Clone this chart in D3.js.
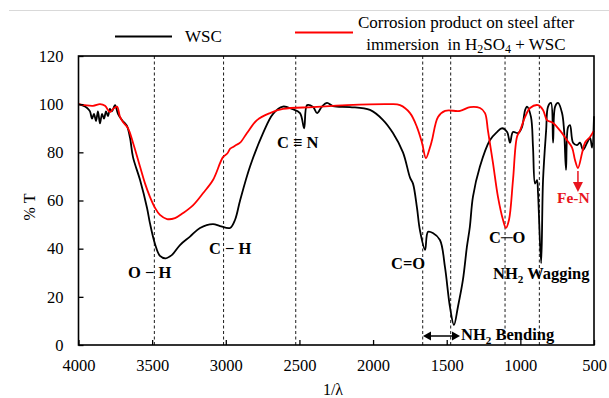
<!DOCTYPE html>
<html>
<head>
<meta charset="utf-8">
<script src="https://cdn.jsdelivr.net/npm/d3@7"></script>
<style>
  html, body { margin: 0; padding: 0; background: #fff; }
  svg { display: block; }
  text { font-family: "Liberation Serif", "Times New Roman", serif; }
</style>
</head>
<body>
<svg id="chart" width="609" height="398"></svg>
<script>
// FTIR spectra: wavenumber (cm⁻¹) vs % transmittance
const wscWave = [4000,3956,3935,3922,3908,3895,3881,3868,3854,3840,3827,3813,3800,3786,3773,3752,3732,3705,3684,3671,3650,3630,3582,3535,3515,3481,3447,3408,3365,3311,3243,3175,3087,3039,2971,2937,2903,2836,2747,2679,2612,2550,2496,2468,2448,2407,2380,2347,2313,2272,2157,2021,1932,1865,1797,1749,1729,1702,1682,1647,1627,1594,1546,1512,1478,1451,1424,1390,1363,1343,1322,1275,1207,1159,1124,1090,1070,1050,1016,989,968,955,928,914,900,887,880,859,846,825,812,792,778,764,744,717,703,690,676,663,642,615,595,574,547,527,513,500];
const wscT    = [100,99,98,97,94,96,93,97,92,96,94,97,95,98,97,99.6,96,93.4,92,91,86,78,68.5,57,50.6,42,37,36,37.4,41.5,45,48.6,50.2,49.4,48.6,52,60,74,88,96,99,98,96.3,90,99.6,98.8,96.3,99,100.5,99.2,98.8,97.6,93.4,88,80,69.5,67,57,47.7,39.5,47,46.5,43.6,32.4,15.8,8.3,15.8,27,40.7,49,61.5,74,85,88.4,90,88.4,84,88.4,88,90.5,97.5,99,94.7,82,67,68.5,63,34,68.5,89,99,100.5,84,99,100.5,96.3,89,72.7,90.5,91.3,84,83,84,81,84,86,82,95];

const corrWave = [4000,3902,3854,3820,3786,3766,3739,3718,3698,3664,3630,3582,3548,3515,3481,3447,3399,3345,3290,3223,3155,3087,3019,2990,2970,2951,2930,2903,2856,2788,2700,2612,2407,2177,1885,1817,1749,1702,1668,1641,1614,1600,1559,1511,1409,1341,1274,1240,1220,1186,1152,1118,1098,1077,1050,1023,1002,968,934,880,846,819,778,730,683,649,629,609,581,561,527,500];
const corrT    = [100,99.3,100,99.3,96.7,98,99,94.7,92.6,90,84,74,67,61.5,57,54,52.3,52.7,54.8,58,63,68.5,78,79.5,81.5,82.2,83,84,88,93.4,96.3,98,98.8,99.6,100,99.6,96.3,90.5,84,77.6,82,85,94.7,97.2,97.2,98.8,98.4,96.3,89,75.6,61.5,52,48.6,52,68.5,86.4,89,94.7,98.4,99.6,97.6,93.4,92.2,89,85,82,76.8,73.5,79.7,84,86.4,89];

// Band assignments marked with dashed guides
const bandWave = [3485, 3015, 2525, 1663, 1473, 1104, 871];

const xTicks = [4000, 3500, 3000, 2500, 2000, 1500, 1000, 500];
const yTicks = [0, 20, 40, 60, 80, 100, 120];

const svg = d3.select("#chart");
const plotL = 78.5, plotR = 594, plotT = 56, plotB = 345;

const x = d3.scaleLinear().domain([4000, 500]).range([plotL, plotR]);
const y = d3.scaleLinear().domain([0, 120]).range([plotB, plotT]);

// thin rule across the top of the figure
svg.append("line")
  .attr("x1", 9).attr("x2", 609).attr("y1", 10.5).attr("y2", 10.5)
  .attr("stroke", "#d9d9d9").attr("stroke-width", 1.2);

// dashed band guides
svg.append("g").selectAll("line").data(bandWave).join("line")
  .attr("x1", d => x(d)).attr("x2", d => x(d))
  .attr("y1", plotT).attr("y2", plotB)
  .attr("stroke", "#000").attr("stroke-width", 0.9)
  .attr("stroke-dasharray", "3,2.5");

// spectra
const spectrum = d3.line().x(d => x(d[0])).y(d => y(d[1])).curve(d3.curveCatmullRom.alpha(0.5));
const wscData = wscWave.map((w, i) => [w, wscT[i]]);
const corrData = corrWave.map((w, i) => [w, corrT[i]]);

svg.append("path").datum(wscData)
  .attr("d", spectrum)
  .attr("fill", "none").attr("stroke", "#000").attr("stroke-width", 1.8)
  .attr("stroke-linejoin", "round");

svg.append("path").datum(corrData)
  .attr("d", spectrum)
  .attr("fill", "none").attr("stroke", "#ff0000").attr("stroke-width", 1.8)
  .attr("stroke-linejoin", "round");

// plot frame
svg.append("rect")
  .attr("x", plotL).attr("y", plotT).attr("width", plotR - plotL).attr("height", plotB - plotT)
  .attr("fill", "none").attr("stroke", "#000").attr("stroke-width", 1.6);

// axes with inward ticks
const xAxis = d3.axisBottom(x).tickValues(xTicks).tickSizeInner(-5).tickSizeOuter(0).tickPadding(14).tickFormat(d3.format("d"));
const gx = svg.append("g").attr("transform", `translate(0,${plotB})`).call(xAxis);
gx.select(".domain").remove();
gx.selectAll("line").attr("stroke", "#000").attr("stroke-width", 1.3);
gx.selectAll("text").attr("font-size", 16.5).attr("font-family", "Liberation Serif").attr("fill", "#000");

const yAxis = d3.axisLeft(y).tickValues(yTicks).tickSizeInner(-5).tickSizeOuter(0).tickPadding(15);
const gy = svg.append("g").attr("transform", `translate(${plotL},0)`).call(yAxis);
gy.select(".domain").remove();
gy.selectAll("line").attr("stroke", "#000").attr("stroke-width", 1.3);
gy.selectAll("text").attr("font-size", 16.5).attr("font-family", "Liberation Serif").attr("fill", "#000");

// axis titles
svg.append("text").attr("x", 333).attr("y", 395).attr("text-anchor", "middle")
  .attr("font-size", 16).text("1/λ");
svg.append("text").attr("transform", "translate(35,207) rotate(-90)")
  .attr("text-anchor", "middle").attr("font-size", 16).text("% T");

// legend
svg.append("line").attr("x1", 115).attr("x2", 172).attr("y1", 36.5).attr("y2", 36.5)
  .attr("stroke", "#000").attr("stroke-width", 2);
svg.append("text").attr("x", 185).attr("y", 42).attr("font-size", 17).text("WSC");
svg.append("line").attr("x1", 295).attr("x2", 353).attr("y1", 32.5).attr("y2", 32.5)
  .attr("stroke", "#ff0000").attr("stroke-width", 2);
svg.append("text").attr("x", 466).attr("y", 28).attr("text-anchor", "middle")
  .attr("font-size", 17).text("Corrosion product on steel after");
const leg2 = svg.append("text").attr("x", 466).attr("y", 50).attr("text-anchor", "middle")
  .attr("font-size", 17).attr("xml:space", "preserve");
leg2.append("tspan").text("immersion  in H");
leg2.append("tspan").attr("font-size", 12).attr("dy", 3).text("2");
leg2.append("tspan").attr("dy", -3).text("SO");
leg2.append("tspan").attr("font-size", 12).attr("dy", 3).text("4");
leg2.append("tspan").attr("dy", -3).text(" + WSC");

// band labels; parts are plain strings or {subscript: "..."}
function bandLabel(tx, ty, parts, color, size) {
  const fs = size || 16.5;
  const t = svg.append("text").attr("x", tx).attr("y", ty)
    .attr("font-size", fs).attr("font-weight", "bold").attr("fill", color || "#000")
    .attr("xml:space", "preserve");
  let shifted = false;
  parts.forEach(p => {
    if (typeof p === "object") {
      t.append("tspan").attr("font-size", fs * 0.68).attr("dy", 3.5).text(p.subscript);
      shifted = true;
    } else {
      const ts = t.append("tspan").text(p);
      if (shifted) { ts.attr("dy", -3.5); shifted = false; }
    }
  });
  return t;
}
bandLabel(128, 278, ["O − H"]);
bandLabel(209, 254, ["C − H"]);
bandLabel(277, 148, ["C ≡ N"]);
bandLabel(391, 269, ["C=O"]);
bandLabel(489, 243, ["C─O"]);
bandLabel(493, 279, ["NH", {subscript: "2"}, " Wagging"]);
bandLabel(461, 340, ["NH", {subscript: "2"}, " Bending"]);
bandLabel(557, 203, ["Fe-N"], "#e8141e", 15.5);

// double-headed arrow spanning the bending band
const arrowY = 336;
svg.append("line").attr("x1", 428).attr("x2", 454).attr("y1", arrowY).attr("y2", arrowY)
  .attr("stroke", "#000").attr("stroke-width", 1.5);
svg.append("path").attr("d", `M423,${arrowY} L431,${arrowY - 4.5} L431,${arrowY + 4.5} Z`).attr("fill", "#000");
svg.append("path").attr("d", `M460,${arrowY} L452,${arrowY - 4.5} L452,${arrowY + 4.5} Z`).attr("fill", "#000");

// arrow down from the Fe-N minimum
const feX = x(609);
svg.append("line").attr("x1", feX).attr("x2", feX).attr("y1", y(73.5) + 3).attr("y2", 184)
  .attr("stroke", "#e8141e").attr("stroke-width", 1.5);
svg.append("path").attr("d", `M${feX - 5},182 L${feX + 5},182 L${feX},192 Z`).attr("fill", "#e8141e");
</script>
</body>
</html>
